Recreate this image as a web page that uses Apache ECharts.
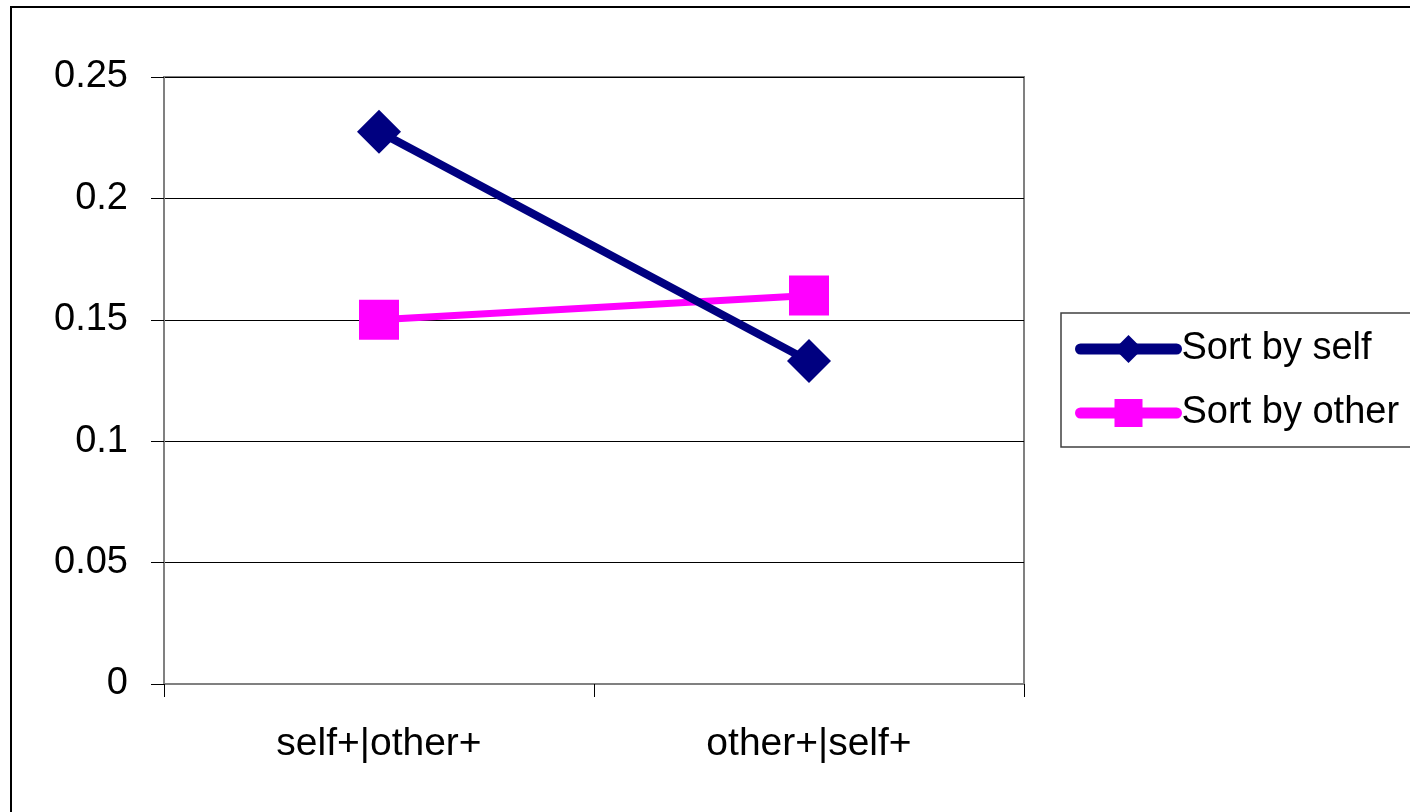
<!DOCTYPE html>
<html>
<head>
<meta charset="utf-8">
<script src="https://cdn.jsdelivr.net/npm/echarts@6/dist/echarts.min.js"></script>
<style>
  html, body { margin: 0; padding: 0; background: #fff; }
  #chart { width: 1410px; height: 812px; }
</style>
</head>
<body>
<div id="chart"></div>
<script>
var categories = ['self+|other+', 'other+|self+']; // 类别
var sortBySelf = [0.2275, 0.133];
var sortByOther = [0.15, 0.16];
var yTicks = [0, 0.05, 0.1, 0.15, 0.2, 0.25];

var chart = echarts.init(document.getElementById('chart'));
var font = '"Liberation Sans", Arial, sans-serif';

var option = {
  backgroundColor: '#fff',
  animation: false,
  grid: {
    left: 164, right: 386, top: 77, bottom: 128,
    show: true,
    borderColor: '#808080',
    borderWidth: 2
  },
  // 外框和图例框
  graphic: [
    { type: 'rect', shape: { x: 11, y: 7, width: 1500, height: 900 },
      style: { fill: null, stroke: '#000', lineWidth: 2 }, silent: true },
    { type: 'rect', shape: { x: 1061, y: 313, width: 400, height: 134 },
      style: { fill: null, stroke: '#404040', lineWidth: 1.5 }, silent: true }
  ],
  legend: {
    orient: 'vertical',
    left: 1070,
    top: 325,
    itemWidth: 96,
    itemHeight: 35,
    itemGap: 26,
    lineStyle: { width: 11, cap: 'round' },
    textStyle: { fontFamily: font, fontSize: 38, color: '#000' },
    data: ['Sort by self', 'Sort by other']
  },
  xAxis: {
    type: 'category',
    data: categories,
    boundaryGap: true,
    axisLine: { lineStyle: { color: '#808080', width: 2 } },
    axisTick: { show: true, length: 13, alignWithLabel: false, lineStyle: { color: '#000', width: 1 } },
    axisLabel: { fontFamily: font, fontSize: 39, color: '#000', margin: 41 }
  },
  yAxis: {
    type: 'value',
    min: yTicks[0],
    max: yTicks[yTicks.length - 1],
    interval: 0.05,
    axisLine: { show: true, lineStyle: { color: '#808080', width: 2 } },
    axisTick: { show: true, length: 13, lineStyle: { color: '#000', width: 1 } },
    splitLine: { show: true, lineStyle: { color: '#000', width: 1 } },
    axisLabel: { fontFamily: font, fontSize: 38, color: '#000', margin: 36 }
  },
  series: [
    {
      name: 'Sort by self',
      type: 'line',
      data: sortBySelf,
      symbol: 'diamond',
      symbolSize: [44, 44],
      lineStyle: { color: '#000080', width: 8 },
      itemStyle: { color: '#000080' },
      z: 3
    },
    {
      name: 'Sort by other',
      type: 'line',
      data: sortByOther,
      symbol: 'rect',
      symbolSize: [40, 40],
      lineStyle: { color: '#FF00FF', width: 7 },
      itemStyle: { color: '#FF00FF' },
      z: 2
    }
  ]
};

chart.setOption(option);
</script>
</body>
</html>
